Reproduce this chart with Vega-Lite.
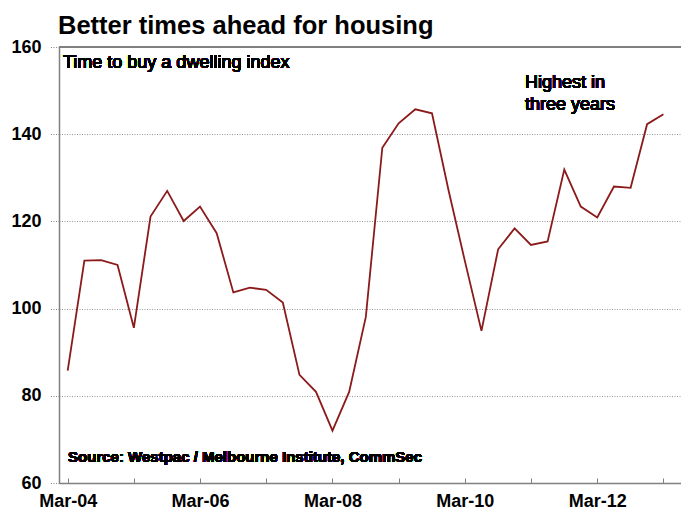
{
  "$schema": "https://vega.github.io/schema/vega-lite/v6.json",
  "width": 622,
  "height": 436,
  "autosize": "none",
  "padding": {"left": 59, "top": 47, "right": 0, "bottom": 25},
  "background": "white",
  "config": {"view": {"stroke": null}, "font": "Liberation Sans"},
  "title": {"text": "Better times ahead for housing", "anchor": "start", "frame": "group", "fontSize": 25.5, "fontWeight": "bold", "font": "Liberation Sans", "color": "black", "baseline": "alphabetic", "offset": -21, "dx": -1},
  "data": {"values": [
    {"date": "2004-03-01", "index": 85.8},
    {"date": "2004-06-01", "index": 111.0},
    {"date": "2004-09-01", "index": 111.1},
    {"date": "2004-12-01", "index": 110.0},
    {"date": "2005-03-01", "index": 95.6},
    {"date": "2005-06-01", "index": 121.1},
    {"date": "2005-09-01", "index": 127.0},
    {"date": "2005-12-01", "index": 120.1},
    {"date": "2006-03-01", "index": 123.4},
    {"date": "2006-06-01", "index": 117.3},
    {"date": "2006-09-01", "index": 103.7},
    {"date": "2006-12-01", "index": 104.8},
    {"date": "2007-03-01", "index": 104.3},
    {"date": "2007-06-01", "index": 101.4},
    {"date": "2007-09-01", "index": 84.8},
    {"date": "2007-12-01", "index": 80.9},
    {"date": "2008-03-01", "index": 72.0},
    {"date": "2008-06-01", "index": 80.9},
    {"date": "2008-09-01", "index": 98.1},
    {"date": "2008-12-01", "index": 136.9},
    {"date": "2009-03-01", "index": 142.5},
    {"date": "2009-06-01", "index": 145.7},
    {"date": "2009-09-01", "index": 144.8},
    {"date": "2009-12-01", "index": 127.2},
    {"date": "2010-03-01", "index": 111.0},
    {"date": "2010-06-01", "index": 94.9},
    {"date": "2010-09-01", "index": 113.6},
    {"date": "2010-12-01", "index": 118.4},
    {"date": "2011-03-01", "index": 114.6},
    {"date": "2011-06-01", "index": 115.4},
    {"date": "2011-09-01", "index": 131.9},
    {"date": "2011-12-01", "index": 123.4},
    {"date": "2012-03-01", "index": 120.9},
    {"date": "2012-06-01", "index": 128.0},
    {"date": "2012-09-01", "index": 127.7},
    {"date": "2012-12-01", "index": 142.3},
    {"date": "2013-03-01", "index": 144.6}
  ]},
  "layer": [
    {
      "mark": {"type": "line", "color": "#8b1a1a", "strokeWidth": 1.8},
      "encoding": {
        "x": {
          "field": "date", "type": "temporal",
          "scale": {"domain": [{"year": 2004, "month": 1, "date": 13}, {"year": 2013, "month": 6, "date": 6}]},
          "axis": {
            "title": null,
            "values": [
              {"year": 2004, "month": 3, "date": 1}, {"year": 2004, "month": 6, "date": 1}, {"year": 2004, "month": 9, "date": 1}, {"year": 2004, "month": 12, "date": 1},
              {"year": 2005, "month": 3, "date": 1}, {"year": 2005, "month": 6, "date": 1}, {"year": 2005, "month": 9, "date": 1}, {"year": 2005, "month": 12, "date": 1},
              {"year": 2006, "month": 3, "date": 1}, {"year": 2006, "month": 6, "date": 1}, {"year": 2006, "month": 9, "date": 1}, {"year": 2006, "month": 12, "date": 1},
              {"year": 2007, "month": 3, "date": 1}, {"year": 2007, "month": 6, "date": 1}, {"year": 2007, "month": 9, "date": 1}, {"year": 2007, "month": 12, "date": 1},
              {"year": 2008, "month": 3, "date": 1}, {"year": 2008, "month": 6, "date": 1}, {"year": 2008, "month": 9, "date": 1}, {"year": 2008, "month": 12, "date": 1},
              {"year": 2009, "month": 3, "date": 1}, {"year": 2009, "month": 6, "date": 1}, {"year": 2009, "month": 9, "date": 1}, {"year": 2009, "month": 12, "date": 1},
              {"year": 2010, "month": 3, "date": 1}, {"year": 2010, "month": 6, "date": 1}, {"year": 2010, "month": 9, "date": 1}, {"year": 2010, "month": 12, "date": 1},
              {"year": 2011, "month": 3, "date": 1}, {"year": 2011, "month": 6, "date": 1}, {"year": 2011, "month": 9, "date": 1}, {"year": 2011, "month": 12, "date": 1},
              {"year": 2012, "month": 3, "date": 1}, {"year": 2012, "month": 6, "date": 1}, {"year": 2012, "month": 9, "date": 1}, {"year": 2012, "month": 12, "date": 1},
              {"year": 2013, "month": 3, "date": 1}
            ],
            "labelExpr": "month(datum.value) == 2 && year(datum.value) % 2 == 0 ? timeFormat(datum.value, '%b-%y') : ''",
            "labelOverlap": false,
            "labelFlush": false,
            "labelFont": "Liberation Sans",
            "labelFontSize": 18,
            "labelFontWeight": "bold",
            "labelColor": "black",
            "labelPadding": 14,
            "tickSize": -5,
            "tickColor": "#808080",
            "tickWidth": 1,
            "domainColor": "#808080",
            "domainWidth": 1.5,
            "grid": false
          }
        },
        "y": {
          "field": "index", "type": "quantitative",
          "scale": {"domain": [60, 160], "nice": false, "zero": false},
          "axis": {
            "title": null,
            "values": [60, 80, 100, 120, 140, 160],
            "labelFont": "Liberation Sans",
            "labelFontSize": 18,
            "labelFontWeight": "bold",
            "labelColor": "black",
            "labelPadding": 9,
            "tickSize": 9,
            "tickDash": [1, 1.5],
            "tickColor": "#888888",
            "domainColor": "#808080",
            "domainWidth": 1.5,
            "grid": true,
            "gridDash": [1, 1.5],
            "gridColor": "#999999",
            "gridWidth": 1
          }
        }
      }
    },
    {
      "mark": {"type": "rule", "color": "#808080", "strokeWidth": 1.5},
      "encoding": {"y": {"datum": 160}}
    },
    {
      "mark": {"type": "text", "text": "Time to buy a dwelling index", "align": "left", "baseline": "alphabetic", "fontSize": 18, "font": "Liberation Sans", "color": "black"},
      "encoding": {
        "x": {"datum": {"year": 2004, "month": 2, "date": 4}, "type": "temporal"},
        "y": {"datum": 155.2}
      }
    },
    {
      "mark": {"type": "text", "text": ["Highest in", "three years"], "align": "left", "baseline": "alphabetic", "lineHeight": 22.5, "fontSize": 18, "font": "Liberation Sans", "color": "black"},
      "encoding": {
        "x": {"datum": {"year": 2011, "month": 1, "date": 27}, "type": "temporal"},
        "y": {"datum": 150.7}
      }
    },
    {
      "mark": {"type": "text", "text": "Source: Westpac / Melbourne Institute, CommSec", "align": "left", "baseline": "alphabetic", "fontSize": 15, "fontWeight": "bold", "font": "Liberation Sans", "color": "black"},
      "encoding": {
        "x": {"datum": {"year": 2004, "month": 3, "date": 3}, "type": "temporal"},
        "y": {"datum": 64.8}
      }
    }
  ]
}
